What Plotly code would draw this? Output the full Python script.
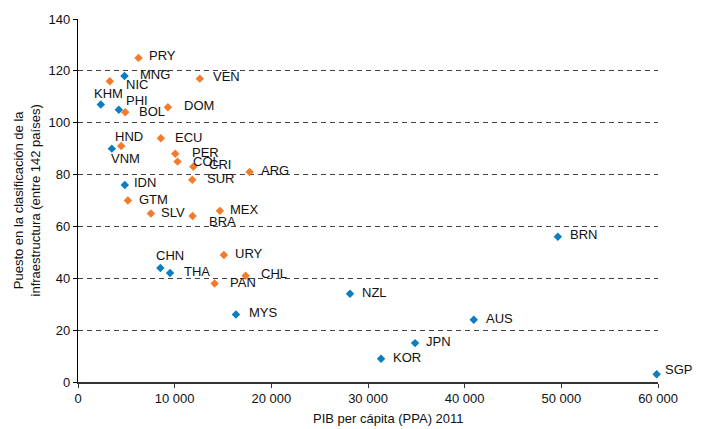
import plotly.graph_objects as go

# ---------------- data ----------------
asia_codes = ["MNG", "KHM", "PHI", "VNM", "IDN", "CHN", "THA", "MYS", "NZL", "AUS", "JPN", "KOR", "SGP", "BRN"]
asia_gdp = [4810, 2360, 4225, 3500, 4840, 8520, 9520, 16340, 28140, 40940, 34870, 31350, 59860, 49640]
asia_rank = [118, 107, 105, 90, 76, 44, 42, 26, 34, 24, 15, 9, 3, 56]

latam_codes = ["PRY", "NIC", "VEN", "BOL", "DOM", "ECU", "HND", "PER", "COL", "CRI", "ARG", "SUR",
               "GTM", "SLV", "BRA", "MEX", "URY", "CHL", "PAN"]
latam_gdp = [6260, 3290, 12600, 4890, 9300, 8570, 4470, 10060, 10300, 11930, 17750, 11820,
             5160, 7540, 11850, 14680, 15090, 17340, 14130]
latam_rank = [125, 116, 117, 104, 106, 94, 91, 88, 85, 83, 81, 78, 70, 65, 64, 66, 49, 41, 38]

x_ticks = [0, 10000, 20000, 30000, 40000, 50000, 60000]
x_tick_labels = ["0", "10 000", "20 000", "30 000", "40 000", "50 000", "60 000"]
y_ticks = [0, 20, 40, 60, 80, 100, 120, 140]

x_title = "PIB per cápita (PPA) 2011"
y_title = "Puesto en la clasificación de la<br>infraestructura (entre 142 países)"

# ---------------- label offsets (pixels: right, down) ----------------
label_offsets = {
    "PRY": (8, -2), "MNG": (13, -2), "NIC": (14, 3), "VEN": (11, -2), "KHM": (-9, -11),
    "PHI": (5, -9), "BOL": (12, -1), "DOM": (14, -2), "HND": (-8, -10), "ECU": (12, -1),
    "VNM": (-3, 10), "PER": (15, -1), "COL": (13, 0), "CRI": (14, -2), "ARG": (9, -1),
    "SUR": (13, -1), "IDN": (7, -2), "GTM": (9, -1), "SLV": (8, -1), "BRA": (14, 5),
    "MEX": (8, -1), "URY": (9, -1), "CHN": (-6, -12), "THA": (12, -2), "PAN": (13, -1),
    "CHL": (13, -2), "MYS": (11, -2), "NZL": (10, -1), "AUS": (10, -1), "JPN": (9, -2),
    "KOR": (10, -1), "SGP": (6, -5), "BRN": (10, -2),
}

BLUE = "#0b7dc1"
ORANGE = "#f47b2b"
FONT = "Liberation Sans, Arial, sans-serif"
TEXT = "#111111"

fig = go.Figure()
fig.add_trace(go.Scatter(
    x=asia_gdp, y=asia_rank, mode="markers", name="Asia",
    marker=dict(symbol="diamond", size=6.5, color=BLUE), cliponaxis=False,
))
fig.add_trace(go.Scatter(
    x=latam_gdp, y=latam_rank, mode="markers", name="América Latina",
    marker=dict(symbol="diamond", size=6.5, color=ORANGE), cliponaxis=False,
))

annotations = []
for codes, xs, ys in [(asia_codes, asia_gdp, asia_rank), (latam_codes, latam_gdp, latam_rank)]:
    for c, xv, yv in zip(codes, xs, ys):
        dx, dy = label_offsets[c]
        annotations.append(dict(
            x=xv, y=yv, xref="x", yref="y", text=c, showarrow=False,
            xanchor="left", yanchor="middle", xshift=dx, yshift=-dy,
            font=dict(family=FONT, size=13, color=TEXT),
        ))

annotations.append(dict(
    x=(388 - 78) / 580, y=-0.101, xref="paper", yref="paper", text=x_title,
    showarrow=False, xanchor="center", yanchor="middle",
    font=dict(family=FONT, size=13, color=TEXT),
))
annotations.append(dict(
    x=-0.088, y=0.5, xref="paper", yref="paper", text=y_title, textangle=-90,
    showarrow=False, xanchor="center", yanchor="middle",
    font=dict(family=FONT, size=13, color=TEXT),
))

fig.update_layout(
    width=702, height=429,
    margin=dict(l=78, r=44, t=16, b=47),
    paper_bgcolor="white", plot_bgcolor="white",
    showlegend=False,
    font=dict(family=FONT, size=13, color=TEXT),
    annotations=annotations,
    xaxis=dict(
        range=[0, 60000], tickvals=x_ticks, ticktext=x_tick_labels,
        showgrid=False, zeroline=False,
        showline=True, linecolor="#333333", linewidth=1.5,
        ticks="outside", ticklen=4, tickcolor="#333333",
        tickfont=dict(family=FONT, size=13, color=TEXT),
    ),
    yaxis=dict(
        range=[0, 140], tickvals=y_ticks,
        showgrid=True, gridcolor="#444444", gridwidth=1, griddash="5px,4px",
        zeroline=False,
        showline=True, linecolor="#000000", linewidth=1.2,
        ticks="outside", ticklen=4, tickcolor="#000000",
        tickfont=dict(family=FONT, size=13, color=TEXT),
    ),
)

fig.write_html(
    "out.html",
    config={"displayModeBar": False},
    post_script="document.body.style.margin='0px';document.body.style.overflow='hidden';",
)
